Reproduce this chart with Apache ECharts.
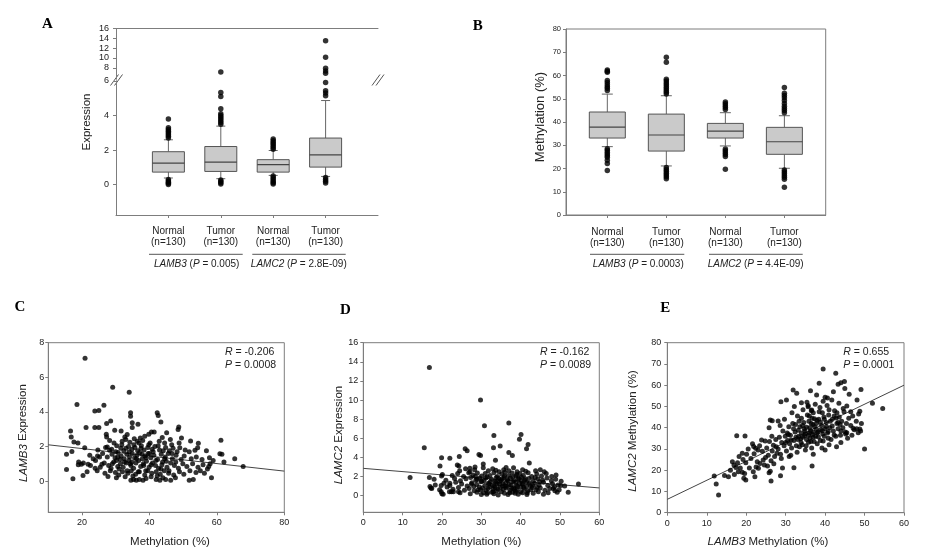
<!DOCTYPE html>
<html><head><meta charset="utf-8">
<script src="https://cdn.jsdelivr.net/npm/echarts@6/dist/echarts.min.js"></script>
<style>html,body{margin:0;padding:0;background:#fff}#c{width:925px;height:551px}</style>
</head><body><div id="c"></div>
<script>
// ---------- DATA ----------
const boxCategories = ['Normal\n(n=130)', 'Tumor\n(n=130)', 'Normal\n(n=130)', 'Tumor\n(n=130)'];
const boxPositions = [1, 2, 3, 4];
// [lower whisker, Q1, median, Q3, upper whisker]
const exprBoxes = [[0.39,0.73,1.25,1.91,2.6],[0.35,0.77,1.31,2.21,3.39],[0.54,0.73,1.16,1.45,1.98],[0.48,1.02,1.73,2.7,4.87]];
// outliers [position, value]
const exprOutliersLow = [
 [1,2.7],[1,2.8],[1,2.9],[1,3.0],[1,3.1],[1,3.2],[1,3.3],[1,3.8],[1,0.02],[1,0.08],[1,0.15],[1,0.22],[1,0.3],
 [2,3.5],[2,3.6],[2,3.7],[2,3.8],[2,3.9],[2,4.0],[2,4.1],[2,4.39],[2,5.1],[2,5.34],[2,0.05],[2,0.12],[2,0.2],[2,0.28],
 [3,2.05],[3,2.15],[3,2.25],[3,2.35],[3,2.45],[3,2.55],[3,2.65],[3,0.05],[3,0.12],[3,0.2],[3,0.3],[3,0.4],[3,0.5],
 [4,5.14],[4,5.3],[4,5.43],[4,5.91],[4,0.1],[4,0.2],[4,0.3],[4,0.42]
];
const exprOutliersHigh = [[2,7.13],[4,6.86],[4,7.33],[4,7.89],[4,10.14],[4,13.54]];
const exprTicksLow = [0, 2, 4, 6];
const exprTicksHigh = [8, 10, 12, 14, 16];

const methBoxes = [[29.4,33.1,37.8,44.3,52],[21.1,27.5,34.4,43.4,51.3],[29.7,33.1,36.1,39.4,44],[20.1,26.1,31.5,37.7,42.7]];
const methOutliers = [
 [1,53.5],[1,54.5],[1,55.2],[1,56],[1,57],[1,57.8],[1,61.4],[1,61.8],[1,62.4],[1,28.5],[1,27.8],[1,27],[1,26.2],[1,25.5],[1,24.8],[1,23.6],[1,22.2],[1,19.1],
 [2,52],[2,52.8],[2,53.6],[2,54.4],[2,55.2],[2,56],[2,56.8],[2,57.6],[2,58.4],[2,65.7],[2,67.8],[2,20.4],[2,19.6],[2,18.8],[2,18],[2,17.2],[2,16.4],[2,15.6],
 [3,45.4],[3,46.2],[3,47],[3,47.8],[3,48.6],[3,28.4],[3,27.6],[3,26.8],[3,26],[3,25.2],[3,19.7],
 [4,44],[4,45],[4,45.8],[4,46.8],[4,48],[4,49.2],[4,50.4],[4,51.4],[4,52.4],[4,54.8],[4,19.4],[4,18.6],[4,17.8],[4,17],[4,16.2],[4,15.4],[4,11.9]
];
const methTicks = [0,10,20,30,40,50,60,70,80];

// C: LAMB3 methylation (%) vs LAMB3 expression
const scatterC = [
 [20.9,7.1],[29.1,5.43],[34.0,5.14],[18.5,4.43],[26.5,4.39],[23.8,4.06],[25.0,4.08],[34.4,3.95],[34.4,3.75],[42.3,3.95],[42.6,3.8],[43.4,3.42],[28.5,3.48],[27.3,3.33],[21.2,3.1],[23.8,3.1],[25.0,3.1],[34.9,3.37],[34.9,3.1],[36.6,3.29],[29.7,2.94],[16.6,2.9],[16.8,2.55],[48.7,3.13],[48.5,2.98],[45.1,2.8],[43.8,2.52],[40.6,2.84],[41.4,2.84],[39.8,2.71],[38.6,2.59],[31.6,2.9],[33.4,2.69],[32.7,2.55],[27.2,2.71],[27.3,2.55],[17.6,2.26],[18.8,2.2],[52.2,2.32],[54.5,2.19],[61.2,2.36],[20.8,1.93],[48.8,2.2],[49.0,1.93],[53.5,1.78],[54.3,1.93],[60.9,1.59],[65.3,1.3],[67.8,0.85],[15.4,1.55],[17.0,1.72],[15.4,0.68],[17.3,0.14],[19.0,1.1],[19.8,0.97],[21.8,0.97],[20.3,0.33],[23.3,1.3],[24.0,1.2],[25.2,1.39],[25.9,0.97],[27.7,0.27],[27.5,1.97],[28.2,1.78],
 [28.2,2.35],[29.5,2.2],[31.9,2.3],[33.0,2.4],[34.2,2.25],[35.5,2.45],[36.9,2.2],[38.0,2.35],[42.9,2.3],[44.5,2.2],[46.2,2.4],[49.5,2.5],[37.3,2.5],[40.2,2.2],
 [27.0,1.95],[28.8,1.85],[30.3,2.05],[31.5,1.9],[32.4,1.75],[33.8,2.0],[34.8,1.85],[35.7,1.95],[36.5,1.75],[37.6,2.05],[38.4,1.8],[39.5,1.95],[40.8,1.85],[41.6,2.0],[43.0,1.8],[44.8,1.95],[45.9,1.75],[47.0,1.9],[48.2,1.7],[50.6,1.8],[51.8,1.7],[56.9,1.75],[46.6,2.1],[24.7,1.8],
 [22.3,1.5],[24.6,1.45],[26.1,1.6],[27.5,1.4],[28.9,1.55],[29.8,1.35],[30.7,1.65],[31.6,1.45],[32.5,1.3],[33.3,1.55],[34.1,1.4],[34.9,1.6],[35.6,1.35],[36.3,1.5],[37.1,1.65],[37.9,1.3],[38.7,1.45],[39.6,1.6],[40.4,1.35],[41.3,1.5],[42.4,1.25],[43.5,1.55],[44.7,1.4],[45.6,1.6],[46.8,1.3],[47.9,1.5],[49.4,1.25],[50.3,1.45],[52.4,1.3],[53.9,1.4],[55.6,1.25],[57.8,1.35],[58.9,1.2],[61.5,1.55],[30.2,1.2],[33.9,1.2],[36.8,1.2],[39.1,1.15],[43.9,1.1],
 [18.9,0.95],[20.4,1.05],[22.5,0.9],[23.9,0.75],[25.4,0.8],[26.6,1.05],[27.9,0.9],[28.6,0.75],[29.4,1.1],[30.6,0.85],[31.4,1.0],[32.2,0.8],[33.1,1.05],[34.5,0.9],[35.3,0.75],[36.0,1.05],[37.4,0.85],[38.2,1.0],[39.9,0.8],[40.9,1.05],[41.8,0.9],[42.7,0.75],[43.7,0.95],[45.2,0.8],[46.3,1.05],[47.4,0.9],[48.6,0.75],[49.9,1.0],[51.1,0.85],[52.8,1.0],[54.4,0.8],[55.9,0.95],[57.2,0.7],[58.0,1.0],[62.1,1.1],[57.6,0.85],
 [21.5,0.55],[24.5,0.6],[26.8,0.45],[28.4,0.6],[29.9,0.5],[30.9,0.35],[32.0,0.55],[33.6,0.45],[34.6,0.6],[35.9,0.4],[37.0,0.55],[38.6,0.35],[39.5,0.6],[40.7,0.45],[42.0,0.55],[43.2,0.4],[44.4,0.6],[45.7,0.45],[47.2,0.35],[48.9,0.55],[50.2,0.4],[52.0,0.6],[53.8,0.5],[55.1,0.6],[56.3,0.45],
 [30.2,0.2],[34.5,0.05],[35.3,0.1],[36.1,0.05],[37.0,0.1],[38.1,0.05],[39.0,0.15],[42.0,0.1],[43.1,0.05],[44.0,0.2],[44.8,0.1],[46.3,0.05],[47.7,0.2],[51.8,0.05],[53.0,0.1],[58.4,0.2],[40.5,0.25],[32.8,0.25],
 [29.0,1.0],[30.0,1.7],[31.0,0.7],[31.8,2.1],[32.6,1.1],[33.4,0.6],[34.0,1.7],[34.8,1.1],[35.4,2.1],[36.1,1.3],[36.7,0.55],[37.5,1.9],[38.3,0.9],[39.0,1.35],[39.8,2.1],[40.5,0.95],[41.1,1.7],[41.9,1.2],[42.6,2.05],[43.4,0.7],[44.1,1.75],[45.0,1.15],[45.8,0.6],[46.7,1.6],[47.8,1.1],[30.6,1.4],[33.0,1.9],[35.1,0.3],[37.8,1.55],[40.0,1.6],[42.3,0.3],[44.5,1.3],[36.4,2.3],[34.3,1.0],[38.9,0.6],[31.3,1.25]
];
const fitC = [[10, 2.1], [80, 0.58]];

// D: LAMC2 methylation (%) vs LAMC2 expression
const scatterD = [
 [16.8,13.4],[29.8,10.0],[37.0,7.6],[30.8,7.3],[40.1,6.4],[39.7,5.9],[33.2,6.3],[15.5,5.0],[41.9,5.35],[41.5,4.9],[33.1,5.0],[34.8,5.2],[25.9,4.9],[26.4,4.7],[37.0,4.5],[37.9,4.2],[29.4,4.3],[29.8,4.2],[24.4,4.1],[19.9,3.95],[22.0,3.9],[33.6,3.7],[30.5,3.3],[42.2,3.4],[19.5,3.1],[23.9,3.2],[24.3,3.1],[27.1,2.85],[28.4,3.0],[45.0,2.7],[11.9,1.9],[16.8,1.9],[18.0,1.7],[19.9,2.05],[54.7,1.2],[52.1,0.35],[50.2,1.05],[48.3,0.75],[48.7,0.5],[16.95,0.95],[17.4,0.75],[19.8,1.05],[20.0,0.2],[19.8,0.4],[22.0,1.3],[21.9,0.4],[22.9,0.4],[24.2,0.4],
 [24.5,2.6],[26.0,2.8],[27.1,2.5],[28.3,2.7],[30.5,2.9],[31.8,2.6],[32.9,2.8],[34.5,2.5],[35.7,2.7],[37.0,2.6],[38.2,2.9],[39.1,2.5],[40.5,2.7],[41.3,2.55],[43.8,2.6],[46.0,2.5],[36.3,2.95],[33.7,2.65],
 [20.1,2.2],[22.6,2.1],[24.0,2.3],[25.5,2.0],[26.8,2.4],[27.9,2.15],[29.0,2.35],[30.1,2.05],[31.0,2.3],[32.2,2.1],[33.2,2.4],[34.1,2.0],[35.2,2.25],[36.0,2.45],[36.9,2.1],[37.8,2.35],[38.8,2.05],[39.8,2.3],[40.7,2.1],[41.9,2.4],[42.8,2.0],[44.1,2.25],[45.3,2.05],[46.5,2.3],[47.9,2.0],[49.0,2.15],
 [21.0,1.6],[23.2,1.8],[24.7,1.55],[26.1,1.75],[27.3,1.9],[28.6,1.6],[29.6,1.85],[30.7,1.55],[31.5,1.95],[32.6,1.7],[33.5,1.5],[34.4,1.8],[35.0,1.6],[35.8,1.9],[36.6,1.65],[37.4,1.85],[38.3,1.55],[39.3,1.75],[40.2,1.95],[41.0,1.6],[42.1,1.8],[43.2,1.55],[44.4,1.75],[45.6,1.6],[46.7,1.85],[47.8,1.55],[48.9,1.7],[50.3,1.5],
 [18.3,1.1],[20.5,1.3],[22.0,1.05],[23.5,1.4],[25.0,1.2],[26.4,1.0],[27.6,1.35],[28.8,1.15],[29.9,1.45],[30.9,1.05],[31.8,1.3],[32.8,1.1],[33.7,1.4],[34.6,1.2],[35.4,1.0],[36.2,1.35],[37.1,1.15],[38.0,1.45],[38.9,1.05],[39.7,1.3],[40.6,1.15],[41.5,1.4],[42.5,1.05],[43.6,1.3],[44.7,1.1],[45.8,1.4],[46.9,1.05],[48.1,1.25],[49.5,1.1],[51.2,1.0],
 [17.2,0.8],[19.4,0.6],[21.3,0.9],[22.8,0.65],[24.2,0.85],[25.7,0.55],[26.9,0.75],[28.1,0.95],[29.2,0.6],[30.3,0.8],[31.2,0.55],[32.1,0.9],[33.0,0.7],[33.9,0.5],[34.8,0.85],[35.6,0.65],[36.5,0.95],[37.3,0.55],[38.2,0.8],[39.1,0.6],[40.0,0.9],[40.9,0.7],[41.8,0.5],[42.9,0.85],[43.9,0.6],[45.0,0.8],[46.2,0.55],[47.4,0.75],[48.6,0.9],[49.8,0.6],
 [20.3,0.15],[22.4,0.4],[24.6,0.3],[27.2,0.2],[28.9,0.35],[30.0,0.1],[31.6,0.3],[33.2,0.2],[34.3,0.05],[35.9,0.25],[36.8,0.1],[37.9,0.35],[39.4,0.15],[40.5,0.3],[41.6,0.1],[43.2,0.25],[44.5,0.4],[45.8,0.15],[47.0,0.3],[49.3,0.35],[33.0,0.4],[38.7,0.45],
 [27.5,1.2],[28.2,0.5],[28.9,1.7],[29.5,0.9],[30.1,1.5],[30.6,0.3],[31.1,1.85],[31.7,0.75],[32.3,1.45],[32.7,0.35],[33.3,1.0],[33.8,1.9],[34.2,0.7],[34.7,1.5],[35.1,0.4],[35.5,1.25],[35.9,2.05],[36.3,0.8],[36.8,1.55],[37.2,0.3],[37.6,1.1],[38.0,1.95],[38.4,0.65],[38.8,1.4],[39.2,0.95],[39.6,1.8],[40.0,0.4],[40.4,1.2],[40.8,0.85],[41.2,1.75],[41.7,0.3],[42.2,1.3],[42.6,0.6],[43.1,1.05],[43.7,1.9],[44.2,0.85],[29.8,0.6],[32.0,1.2],[34.0,1.2],[36.0,1.0],[38.6,0.25],[40.2,1.55],[35.3,1.75],[31.4,0.15],[37.7,0.8],[33.5,0.85],[41.5,0.95],[39.0,2.2],[28.5,2.0],[44.8,1.45]
];
const fitD = [[0, 2.85], [60, 0.8]];

// E: LAMB3 methylation vs LAMC2 methylation (%)
const scatterE = [
 [39.5,67.6],[42.7,65.6],[43.3,60.5],[44.0,61.2],[44.9,61.8],[38.5,60.9],[49.1,58.0],[31.9,57.7],[36.3,57.4],[42.1,56.9],[32.8,56.2],[37.85,55.4],[40.0,54.3],[40.6,54.0],[45.0,58.5],[46.1,55.8],[48.1,53.0],[52.0,51.5],[54.6,49.0],[28.8,52.2],[30.2,53.0],[34.0,51.8],[45.5,50.2],[46.5,47.5],[48.8,47.7],[35.7,49.9],[36.6,48.3],[26.1,43.6],[26.6,43.3],[28.1,43.1],[47.1,39.7],[48.0,39.5],[48.8,39.4],[48.4,37.6],[45.5,37.6],[50.0,30.0],[17.6,36.2],[19.7,36.1],[21.9,31.1],[22.4,30.3],[23.9,34.2],[24.8,33.7],[20.1,27.5],[19.9,23.5],[17.4,21.3],[16.9,22.4],[18.0,19.3],[19.0,19.0],[15.5,16.9],[11.9,17.3],[12.4,13.5],[13.0,8.3],[21.8,19.3],[22.2,16.9],[19.4,16.2],[19.9,15.4],[26.3,14.9],[25.8,18.8],[28.7,17.4],[32.1,21.2],[36.7,22.0],[23.1,20.9],[23.5,23.2],
 [20.5,30.0],[21.2,25.5],[22.0,27.8],[22.8,24.0],[23.4,31.5],[24.1,28.9],[24.6,22.5],[21.6,32.5],[23.0,29.5],[24.9,26.0],[20.8,21.0],[22.5,21.5],[24.3,24.8],
 [25.2,30.5],[25.6,27.0],[25.9,33.5],[26.3,24.5],[26.6,29.0],[26.9,31.8],[27.2,26.5],[27.5,34.5],[27.8,28.0],[25.4,22.0],[26.1,19.5],[27.0,23.0],[27.6,31.0],[26.5,36.0],[25.8,40.0],
 [28.1,30.0],[28.4,35.5],[28.7,27.5],[29.0,33.0],[29.3,38.5],[29.6,31.5],[29.9,36.0],[30.2,29.0],[30.5,34.0],[30.8,40.5],[31.0,32.5],[28.9,25.5],[29.7,44.0],[30.4,37.5],[28.6,41.0],[30.9,26.5],[29.2,21.0],
 [31.2,36.5],[31.5,30.5],[31.8,42.0],[32.1,34.0],[32.4,38.0],[32.7,31.5],[33.0,45.5],[33.3,36.0],[33.6,40.5],[33.9,33.0],[31.6,47.0],[32.9,28.5],[33.4,43.0],[32.2,50.0],[31.3,27.0],[34.0,37.5],[33.1,34.5],[32.5,41.5],
 [34.3,35.5],[34.6,42.5],[34.9,38.5],[35.2,31.5],[35.5,46.0],[35.8,36.5],[36.1,40.0],[36.4,33.5],[36.7,44.5],[37.0,38.0],[34.4,48.5],[35.0,29.5],[35.7,50.5],[36.2,35.0],[36.9,41.5],[34.7,39.5],[35.3,34.5],[36.0,37.5],[36.6,30.5],[35.9,43.0],[37.0,27.5],[34.2,32.0],[36.5,48.0],[35.4,52.0],[37.0,35.5],
 [37.3,40.5],[37.6,36.0],[37.9,43.5],[38.2,38.0],[38.5,47.5],[38.8,34.0],[39.1,41.0],[39.4,37.0],[39.7,45.0],[40.0,39.5],[37.5,51.0],[38.0,32.5],[38.7,49.5],[39.2,30.5],[39.8,36.0],[37.8,42.0],[38.4,44.0],[39.5,52.5],[38.9,39.0],[37.2,33.5],[40.0,29.5],[39.3,47.0],
 [40.3,42.5],[40.6,37.5],[40.9,46.0],[41.2,40.0],[41.5,34.5],[41.8,44.0],[42.1,38.5],[42.4,48.0],[42.7,36.0],[43.0,42.0],[40.5,50.5],[41.0,32.0],[41.7,53.0],[42.3,45.5],[42.9,31.0],[40.8,35.0],[43.0,47.0],
 [43.3,39.5],[43.6,45.0],[43.9,36.5],[44.2,43.0],[44.5,40.0],[44.8,47.5],[45.1,38.0],[45.4,42.0],[45.7,35.0],[43.5,51.5],[44.0,33.0],[44.6,49.0],[46.0,44.5],[45.2,37.0],[43.8,41.5],
 [46.5,41.0],[47.0,45.5],[47.4,39.0],[47.9,43.0],[48.5,46.5],[49.0,38.5],[49.2,42.0],[46.8,36.5],
 [14.5,17.5],[16.0,20.0],[17.0,18.0],[17.8,23.5],[18.5,21.0],[19.2,25.0],[19.6,18.5],[18.2,26.5],[16.5,24.0],[19.0,28.0],
 [30.0,33.0],[30.7,36.8],[31.4,34.2],[32.0,39.5],[32.6,35.5],[33.2,38.8],[33.8,34.8],[34.3,41.0],[34.8,36.2],[35.3,40.2],[35.8,33.2],[36.3,38.6],[36.8,36.8],[37.3,44.2],[37.8,39.4],[38.3,35.6],[38.8,42.6],[39.3,38.6],[39.8,44.0],[40.3,40.6],[40.8,38.2],[41.3,43.0],[41.8,40.8],[42.3,36.6],[42.8,44.6],[43.3,42.5],[44.0,38.5],[36.0,45.5],[34.0,44.5],[37.0,47.0],[39.5,33.8],[41.0,48.5],[33.5,31.0],[35.0,37.2],[38.0,37.5],[36.5,42.0]
];
const fitE = [[0, 6.3], [60, 60]];

const ticksC_x = [20, 40, 60, 80], ticksC_y = [0, 2, 4, 6, 8];
const ticksD_x = [0, 10, 20, 30, 40, 50, 60], ticksD_y = [0, 2, 4, 6, 8, 10, 12, 14, 16];
const ticksE_x = [0, 10, 20, 30, 40, 50, 60], ticksE_y = [0, 10, 20, 30, 40, 50, 60, 70, 80];
const statsC = ['-0.206', '0.0008'], statsD = ['-0.162', '0.0089'], statsE = ['0.655', '0.0001'];
const geneA = [['LAMB3', '0.005'], ['LAMC2', '2.8E-09']];
const geneB = [['LAMB3', '0.0003'], ['LAMC2', '4.4E-09']];

// ---------- CHART ----------
const FONT = '"Liberation Sans", Arial, sans-serif';
const SERIF = '"Liberation Serif", "Times New Roman", serif';
const AX = '#7d7d7d', TXT = '#222';
const chart = echarts.init(document.getElementById('c'), null, {renderer: 'canvas'});

function boxRender(boxW, capW) {
  return function (params, api) {
    const x = api.value(0);
    const lo = api.coord([x, api.value(1)]), q1 = api.coord([x, api.value(2)]), md = api.coord([x, api.value(3)]),
          q3 = api.coord([x, api.value(4)]), hi = api.coord([x, api.value(5)]);
    const cx = lo[0], hw = boxW / 2, hc = capW / 2;
    const ls = {stroke: '#666', lineWidth: 1};
    return {type: 'group', children: [
      {type: 'line', shape: {x1: cx, y1: hi[1], x2: cx, y2: q3[1]}, style: ls},
      {type: 'line', shape: {x1: cx, y1: q1[1], x2: cx, y2: lo[1]}, style: ls},
      {type: 'line', shape: {x1: cx - hc, y1: hi[1], x2: cx + hc, y2: hi[1]}, style: ls},
      {type: 'line', shape: {x1: cx - hc, y1: lo[1], x2: cx + hc, y2: lo[1]}, style: ls},
      {type: 'rect', shape: {x: cx - hw, y: q3[1], width: boxW, height: q1[1] - q3[1]}, style: {fill: '#cacaca', stroke: '#555', lineWidth: 1}},
      {type: 'line', shape: {x1: cx - hw, y1: md[1], x2: cx + hw, y2: md[1]}, style: {stroke: '#444', lineWidth: 1.2}}
    ]};
  };
}
const boxData = (boxes) => boxes.map((b, i) => [boxPositions[i]].concat(b));

function lineOnly(extra) {
  return Object.assign({axisLine: {show: true, lineStyle: {color: AX}}, axisTick: {show: false}, axisLabel: {show: false}, splitLine: {show: false}}, extra);
}
function valAxis(extra, ticks, labelSize, margin) {
  return Object.assign({
    type: 'value',
    axisLine: {show: true, onZero: false, lineStyle: {color: AX}},
    axisTick: {show: true, inside: false, length: 3, customValues: ticks, lineStyle: {color: AX}},
    axisLabel: {show: true, customValues: ticks, fontSize: labelSize, fontFamily: FONT, color: TXT, margin: margin},
    splitLine: {show: false}
  }, extra);
}
const frame = {show: true, borderColor: AX, borderWidth: 1, backgroundColor: 'transparent'};

const option = {
  animation: false,
  backgroundColor: '#fff',
  grid: [
    {left: 116, top: 28.7, width: 262, height: 50.3},
    {left: 116, top: 81, width: 262, height: 134},
    Object.assign({left: 566, top: 29, width: 259.7, height: 186}, frame),
    Object.assign({left: 48.3, top: 342.7, width: 236, height: 169.6}, frame),
    Object.assign({left: 363.3, top: 342.7, width: 236, height: 169.6}, frame),
    Object.assign({left: 667.3, top: 342.7, width: 236.7, height: 170}, frame)
  ],
  xAxis: [
    lineOnly({type: 'value', gridIndex: 0, position: 'top', min: 0, max: 5}),
    valAxis({gridIndex: 1, position: 'bottom', min: 0, max: 5}, boxPositions, 10, 10),
    valAxis({gridIndex: 2, min: 0.3, max: 4.7}, boxPositions, 10, 11),
    valAxis({gridIndex: 3, min: 10, max: 80}, ticksC_x, 9, 6),
    valAxis({gridIndex: 4, min: 0, max: 60}, ticksD_x, 9, 6),
    valAxis({gridIndex: 5, min: 0, max: 60}, ticksE_x, 9, 6)
  ],
  yAxis: [
    valAxis({gridIndex: 0, min: 5.7, max: 16}, exprTicksHigh, 9, 7),
    lineOnly({type: 'value', gridIndex: 0, position: 'right', min: 5.7, max: 16}),
    valAxis({gridIndex: 1, min: -1.75, max: 6}, exprTicksLow, 9, 7),
    lineOnly({type: 'value', gridIndex: 1, position: 'right', min: -1.75, max: 6}),
    valAxis({gridIndex: 2, min: 0, max: 80}, methTicks, 7.5, 5),
    valAxis({gridIndex: 3, min: -1.8, max: 8}, ticksC_y, 9, 4),
    valAxis({gridIndex: 4, min: -1.75, max: 16}, ticksD_y, 9, 5),
    valAxis({gridIndex: 5, min: 0, max: 80}, ticksE_y, 9, 6)
  ],
  series: [
    {type: 'custom', xAxisIndex: 1, yAxisIndex: 2, renderItem: boxRender(32, 9), data: boxData(exprBoxes), encode: {x: 0, y: [1, 2, 3, 4, 5]}, z: 2},
    {type: 'scatter', xAxisIndex: 1, yAxisIndex: 2, data: exprOutliersLow, symbolSize: 5.5, itemStyle: {color: '#000'}, z: 3},
    {type: 'scatter', xAxisIndex: 0, yAxisIndex: 0, data: exprOutliersHigh, symbolSize: 5.5, itemStyle: {color: '#000'}, z: 3},
    {type: 'custom', xAxisIndex: 2, yAxisIndex: 4, renderItem: boxRender(36, 11), data: boxData(methBoxes), encode: {x: 0, y: [1, 2, 3, 4, 5]}, z: 2},
    {type: 'scatter', xAxisIndex: 2, yAxisIndex: 4, data: methOutliers, symbolSize: 5.5, itemStyle: {color: '#000'}, z: 3},
    {type: 'scatter', xAxisIndex: 3, yAxisIndex: 5, data: scatterC, symbolSize: 5, itemStyle: {color: '#000'}, z: 3},
    {type: 'line', xAxisIndex: 3, yAxisIndex: 5, data: fitC, symbol: 'none', lineStyle: {color: '#444', width: 1}, z: 2},
    {type: 'scatter', xAxisIndex: 4, yAxisIndex: 6, data: scatterD, symbolSize: 5, itemStyle: {color: '#000'}, z: 3},
    {type: 'line', xAxisIndex: 4, yAxisIndex: 6, data: fitD, symbol: 'none', lineStyle: {color: '#444', width: 1}, z: 2},
    {type: 'scatter', xAxisIndex: 5, yAxisIndex: 7, data: scatterE, symbolSize: 5, itemStyle: {color: '#000'}, z: 3},
    {type: 'line', xAxisIndex: 5, yAxisIndex: 7, data: fitE, symbol: 'none', lineStyle: {color: '#444', width: 1}, z: 2}
  ]
};
// category labels for box panels
option.xAxis[1].axisLabel.formatter = (v) => boxCategories[Math.round(v) - 1];
option.xAxis[1].axisLabel.lineHeight = 11.6;
option.xAxis[2].axisLabel.formatter = (v) => boxCategories[Math.round(v) - 1];
option.xAxis[2].axisLabel.lineHeight = 11.6;

// ---------- TEXT / DECORATION ----------
const it = (s) => ({fontStyle: 'italic', fontSize: s, fontFamily: FONT, fill: TXT});
function txt(x, y, text, size, opts) {
  return Object.assign({type: 'text', x: x, y: y, z: 10, style: {text: text, fontSize: size, fontFamily: FONT, fill: TXT, align: 'center', verticalAlign: 'middle', rich: {i: it(size), n: {fontSize: size, fontFamily: FONT, fill: TXT}}}}, opts || {});
}
function letter(x, y, t) {
  return {type: 'text', x: x, y: y, style: {text: t, fontSize: 15, fontWeight: 'bold', fontFamily: SERIF, fill: '#000', align: 'center', verticalAlign: 'middle'}};
}
function hline(x1, x2, y) {
  return {type: 'line', shape: {x1: x1, y1: y, x2: x2, y2: y}, style: {stroke: '#555', lineWidth: 1}};
}
function breakMark(cx, cy) {
  return {type: 'group', z: 20, children: [
    {type: 'polygon', shape: {points: [[cx - 5, cy + 5], [cx - 2, cy + 5], [cx + 5, cy - 5], [cx + 2, cy - 5]]}, style: {fill: '#fff'}},
    {type: 'line', shape: {x1: cx - 6, y1: cy + 5.5, x2: cx + 2, y2: cy - 5.5}, style: {stroke: '#555', lineWidth: 1}},
    {type: 'line', shape: {x1: cx - 2, y1: cy + 5.5, x2: cx + 6, y2: cy - 5.5}, style: {stroke: '#555', lineWidth: 1}}
  ]};
}
const statText = (r, p) => '{i|R} = ' + r + '\n{i|P} = ' + p;
const geneText = (g) => '{i|' + g[0] + '} ({i|P} = ' + g[1] + ')';

option.graphic = [
  letter(47.5, 24.3, 'A'), letter(477.7, 25.7, 'B'), letter(20, 307.5, 'C'), letter(345.3, 310.5, 'D'), letter(665.3, 308.3, 'E'),
  txt(86.7, 122, 'Expression', 11.5, {rotation: Math.PI / 2}),
  txt(540, 117, 'Methylation (%)', 13, {rotation: Math.PI / 2}),
  txt(23.3, 433, '{i|LAMB3} Expression', 11.5, {rotation: Math.PI / 2}),
  txt(339, 435, '{i|LAMC2} Expression', 11.5, {rotation: Math.PI / 2}),
  txt(633, 431, '{i|LAMC2} Methylation (%)', 11.5, {rotation: Math.PI / 2}),
  txt(170, 541.5, 'Methylation (%)', 11.5),
  txt(481.3, 541.5, 'Methylation (%)', 11.5),
  txt(768, 541.5, '{i|LAMB3} Methylation (%)', 11.5),
  hline(149, 242.7, 254.3), hline(252.3, 345.7, 254.3),
  hline(590, 684.3, 254.3), hline(709, 802.7, 254.3),
  txt(196.7, 264.2, geneText(geneA[0]), 10), txt(298.8, 264.2, geneText(geneA[1]), 10),
  txt(638.3, 264.2, geneText(geneB[0]), 10), txt(755.7, 264.2, geneText(geneB[1]), 10),
  txt(225, 358.8, statText(statsC[0], statsC[1]), 10.5),
  txt(540, 358.8, statText(statsD[0], statsD[1]), 10.5),
  txt(843.3, 358.8, statText(statsE[0], statsE[1]), 10.5),
  breakMark(116.5, 80), breakMark(378, 80)
];
// stats left aligned
[21, 22, 23].forEach((k) => { option.graphic[k].style.align = 'left'; option.graphic[k].style.lineHeight = 12.8; option.graphic[k].style.rich.i.lineHeight = 12.8; option.graphic[k].style.rich.n.lineHeight = 12.8; });

chart.setOption(option);
</script>
</body></html>
